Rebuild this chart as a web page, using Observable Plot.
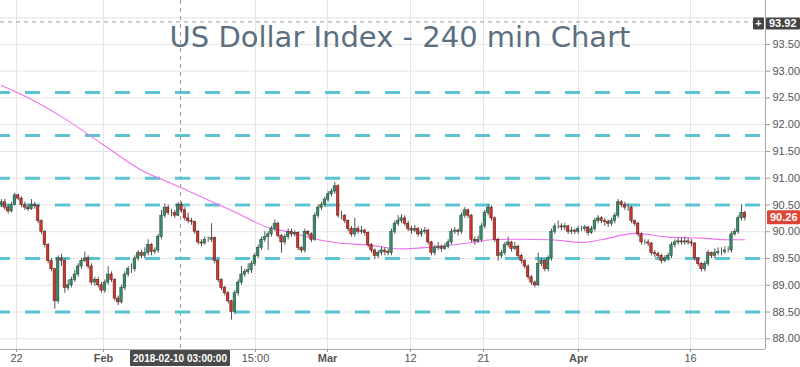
<!DOCTYPE html>
<html><head><meta charset="utf-8">
<script src="https://cdn.jsdelivr.net/npm/d3@7"></script>
<script src="https://cdn.jsdelivr.net/npm/@observablehq/plot@0.6"></script>
<style>
html,body{margin:0;padding:0;background:#fff;}
#chart svg{display:block;}
</style></head><body><div id="chart"></div>
<script>
const title = "US Dollar Index - 240 min Chart";
const firstOpen = 90.5;
const closes = [
90.55,90.45,90.38,90.5,90.68,90.62,90.5,90.45,90.42,90.5,
90.48,90.2,90.0,89.75,89.45,89.3,88.7,89.5,89.45,88.95,
89.0,89.1,89.2,89.35,89.45,89.5,89.35,89.05,89.1,89.0,
88.9,89.05,89.2,89.1,88.75,88.68,88.95,89.2,89.3,89.3,
89.5,89.6,89.55,89.6,89.75,89.62,89.65,89.9,90.3,90.45,
90.35,90.35,90.3,90.5,90.4,90.25,90.2,90.18,90.0,89.8,
89.78,89.85,89.85,89.88,89.45,89.1,88.95,88.85,88.7,88.5,
88.85,89.05,89.2,89.25,89.28,89.4,89.55,89.7,89.85,89.9,
89.95,90.05,90.15,89.92,89.8,89.9,90.0,89.95,89.98,89.7,
89.65,90.0,89.95,89.85,90.3,90.45,90.5,90.6,90.7,90.75,
90.85,90.3,90.3,90.2,90.05,89.95,90.05,90.0,90.02,89.98,
89.75,89.65,89.55,89.6,89.65,89.62,89.6,90.0,90.15,90.2,
90.25,90.15,90.05,90.02,90.05,89.95,90.0,90.02,89.8,89.6,
89.7,89.72,89.68,89.72,89.8,90.0,90.02,90.0,90.3,90.4,
90.3,89.85,89.82,89.85,90.1,90.35,90.45,90.25,89.85,89.55,
89.6,89.75,89.8,89.68,89.72,89.55,89.45,89.35,89.15,89.05,
89.0,89.4,89.45,89.3,89.5,90.0,90.1,90.1,90.08,90.1,
90.0,90.02,90.0,90.05,90.05,90.08,89.98,90.05,90.2,90.25,
90.2,90.18,90.15,90.2,90.3,90.55,90.5,90.45,90.45,90.2,
90.15,89.95,89.8,89.8,89.78,89.6,89.58,89.55,89.45,89.5,
89.55,89.75,89.8,89.82,89.8,89.82,89.8,89.78,89.5,89.4,
89.3,89.4,89.6,89.55,89.6,89.62,89.62,89.65,89.65,89.95,
90.0,90.25,90.35,90.26];
const highs = [
90.6,90.6,90.5,90.55,90.72,90.7,90.65,90.55,90.5,90.6,
90.55,90.5,90.22,90.02,89.78,89.5,89.32,89.55,89.58,89.5,
89.1,89.15,89.28,89.4,89.5,89.62,89.55,89.4,89.15,89.15,
89.05,89.1,89.35,89.25,89.12,88.8,89.0,89.25,89.35,89.4,
89.55,89.65,89.65,89.7,89.85,89.78,89.7,89.95,90.4,90.52,
90.5,90.42,90.4,90.55,90.55,90.45,90.35,90.25,90.2,90.02,
89.85,89.9,89.9,90.15,89.9,89.48,89.12,88.98,88.88,88.72,
88.9,89.1,89.35,89.3,89.4,89.45,89.6,89.75,89.9,90.0,
90.0,90.1,90.22,90.18,89.95,89.95,90.05,90.05,90.02,90.0,
89.72,90.05,90.02,89.98,90.35,90.5,90.55,90.65,90.75,90.8,
90.92,90.88,90.38,90.32,90.22,90.1,90.25,90.1,90.1,90.05,
90.0,89.78,89.68,89.65,89.72,89.7,89.68,90.05,90.2,90.3,
90.32,90.3,90.2,90.1,90.12,90.08,90.05,90.08,90.05,89.82,
89.75,89.8,89.75,89.78,89.85,90.05,90.08,90.05,90.35,90.45,
90.42,90.32,89.9,89.92,90.15,90.4,90.5,90.48,90.28,89.88,
89.65,89.8,89.9,89.82,89.8,89.75,89.58,89.48,89.38,89.18,
89.08,89.6,89.5,89.48,89.55,90.05,90.15,90.2,90.15,90.15,
90.12,90.08,90.05,90.1,90.1,90.12,90.1,90.1,90.25,90.3,
90.28,90.25,90.22,90.25,90.35,90.6,90.58,90.55,90.52,90.48,
90.22,90.18,89.98,89.85,89.85,89.8,89.65,89.62,89.58,89.55,
89.6,89.8,89.85,89.88,89.88,89.9,89.88,89.85,89.8,89.52,
89.42,89.45,89.65,89.62,89.68,89.7,89.7,89.72,89.72,90.0,
90.05,90.3,90.5,90.38];
const lows = [
90.45,90.4,90.33,90.35,90.48,90.58,90.45,90.4,90.38,90.4,
90.42,90.15,89.95,89.7,89.4,89.25,88.55,88.65,89.35,88.85,
88.9,88.95,89.05,89.15,89.3,89.42,89.3,89.0,88.98,88.95,
88.85,88.85,89.0,89.05,88.7,88.62,88.65,88.9,89.15,89.22,
89.25,89.45,89.5,89.5,89.55,89.55,89.58,89.6,89.85,90.25,
90.3,90.28,90.25,90.28,90.35,90.2,90.15,90.12,89.95,89.75,
89.72,89.75,89.8,89.8,89.4,89.05,88.9,88.8,88.65,88.35,
88.45,88.8,89.0,89.15,89.2,89.22,89.35,89.5,89.65,89.8,
89.65,89.9,90.0,89.88,89.6,89.75,89.85,89.9,89.9,89.65,
89.6,89.6,89.9,89.8,89.82,90.25,90.4,90.45,90.55,90.65,
90.7,90.25,90.22,90.15,90.0,89.9,89.9,89.95,89.95,89.92,
89.7,89.6,89.48,89.5,89.55,89.55,89.55,89.55,89.95,90.1,
90.15,90.1,90.0,89.95,89.98,89.9,89.9,89.95,89.75,89.55,
89.55,89.65,89.62,89.65,89.68,89.75,89.95,89.92,89.95,90.25,
90.25,89.8,89.75,89.78,89.8,90.05,90.3,90.2,89.8,89.45,
89.5,89.55,89.7,89.62,89.65,89.5,89.4,89.3,89.1,89.0,
88.95,88.98,89.35,89.25,89.25,89.45,89.95,90.05,90.02,90.02,
89.95,89.95,89.95,89.95,90.0,90.0,89.92,89.95,90.0,90.15,
90.15,90.1,90.08,90.1,90.15,90.25,90.45,90.4,90.38,90.15,
90.1,89.9,89.75,89.75,89.72,89.55,89.52,89.5,89.4,89.42,
89.45,89.5,89.7,89.75,89.75,89.75,89.75,89.72,89.45,89.35,
89.25,89.25,89.35,89.5,89.5,89.55,89.55,89.58,89.6,89.6,
89.92,89.95,90.2,90.2];
const maIdx = [0,9,18,30,42,51,60,70,80,86,93,100,110,120,130,140,147,155,165,174,180,190,200,210,218,223];
const maVal = [92.73,92.47,92.15,91.65,91.15,90.9,90.65,90.37,90.08,90.0,89.88,89.8,89.75,89.68,89.72,89.79,89.85,89.86,89.85,89.8,89.85,89.97,89.9,89.88,89.85,89.85];
const levels = [92.6, 91.8, 91.0, 90.5, 89.5, 88.5];
const yTicks = [88, 88.5, 89, 89.5, 90, 90.5, 91, 91.5, 92, 92.5, 93, 93.5];
const yGrid = [88, 88.5, 89, 89.5, 90, 90.5, 91, 91.5, 92, 92.5, 93, 93.5, 94];
const xTickPos = [4.5, 30.6, 76.2, 97.8, 122.7, 144.6, 173.1, 206.7];
const xTickLabels = ["22", "Feb", "15:00", "Mar", "12", "21", "Apr", "16"];
const boldLabels = ["Feb", "Mar", "Apr"];
const crossX = 53.7, crossXLabel = "2018-02-10 03:00:00";
const crossY = 93.92, crossYLabel = "93.92";
const lastPrice = 90.26, lastLabel = "90.26";
const xDomain = [-0.3, 229.2];
const yDomain = [87.8, 94.32];

if (closes.length !== highs.length || closes.length !== lows.length) throw new Error("len " + closes.length + " " + highs.length + " " + lows.length);

const bars = closes.map((c, i) => ({i, o: i ? closes[i - 1] : firstOpen, c, h: highs[i], l: lows[i]}));
const ma = maIdx.map((i, k) => ({i, v: maVal[k]}));
const up = d => d.c >= d.o;
const labelOf = new Map(xTickPos.map((p, k) => [p, xTickLabels[k]]));

const plot = Plot.plot({
  width: 800, height: 367,
  marginLeft: 0, marginRight: 35, marginTop: 0, marginBottom: 18,
  style: {fontFamily: "'Liberation Sans', Arial, sans-serif", fontSize: "11px", color: "#555", background: "#fff"},
  x: {domain: xDomain, label: null},
  y: {domain: yDomain, label: null},
  marks: [
    Plot.gridY(yGrid, {stroke: "#e5e5e5", strokeOpacity: 1}),
    Plot.gridX(xTickPos, {stroke: "#e5e5e5", strokeOpacity: 1}),
    Plot.ruleX([crossX], {stroke: "#9a9a9a", strokeDasharray: "4,4"}),
    Plot.ruleY([crossY], {stroke: "#9a9a9a", strokeDasharray: "4,4"}),
    Plot.ruleY(levels, {stroke: "#5cc3d2", strokeWidth: 3, strokeDasharray: "15,15", strokeDashoffset: 5}),
    Plot.text([title], {frameAnchor: "top", lineAnchor: "top", dx: 17, dy: 26, fontSize: 29, fill: "#5b6f80", fontFamily: "'DejaVu Sans', Verdana, sans-serif"}),
    Plot.line(ma, {x: "i", y: "v", stroke: "#ee72ee", strokeWidth: 1.1, curve: "monotone-x"}),
    Plot.ruleX(bars, {x: "i", y1: "l", y2: "h", stroke: "#555", strokeWidth: 1}),
    Plot.rect(bars, {x1: d => d.i - 0.36, x2: d => d.i + 0.36, y1: "o", y2: "c",
      fill: d => up(d) ? "#3c8c6c" : "#c9392f", stroke: d => up(d) ? "#1f4f3c" : "#6e1d16", strokeWidth: 0.6}),
    Plot.ruleX([xDomain[1]], {stroke: "#a8a8a8"}),
    Plot.ruleY([yDomain[0]], {stroke: "#a8a8a8"}),
    Plot.axisY(yTicks, {anchor: "right", label: null, tickSize: 4, tickPadding: 3, tickFormat: d3.format(".2f"), stroke: "#999", fill: "#555"}),
    Plot.axisX(xTickPos, {anchor: "bottom", label: null, tickSize: 3, tickPadding: 2, tickFormat: d => labelOf.get(d), stroke: "#999", fill: "#555"})
  ]
});

const svg = d3.select(plot);
const xs = plot.scale("x"), ys = plot.scale("y");
const right = xs.apply(xDomain[1]);
svg.selectAll("text").filter(function() { return boldLabels.includes(this.textContent); }).attr("font-weight", "bold");

function box(x, y, w, h, fill, text, tx, anchor, fs) {
  svg.append("rect").attr("x", x).attr("y", y).attr("width", w).attr("height", h).attr("fill", fill).attr("rx", 1);
  svg.append("text").attr("x", tx).attr("y", y + h / 2).attr("dy", "0.35em").attr("text-anchor", anchor)
    .attr("fill", "#fff").attr("font-weight", "bold").attr("font-size", fs || 11)
    .attr("font-family", "'Liberation Sans', Arial, sans-serif").text(text);
}
const yl = ys.apply(lastPrice);
box(right + 2, yl - 7, 800 - right - 2, 14, "#dd4636", lastLabel, right + 5, "start");
const yc = ys.apply(crossY) + 2;
box(right - 12, yc - 6, 11, 12, "#444", "+", right - 6.5, "middle");
box(right + 1, yc - 6, 800 - right - 1, 12, "#444", crossYLabel, right + 4, "start");
const xc = xs.apply(crossX);
box(xc - 50, ys.apply(yDomain[0]) + 1, 100, 16, "#4a4a4a", crossXLabel, xc, "middle", 10);

document.getElementById("chart").appendChild(plot);
</script></body></html>
